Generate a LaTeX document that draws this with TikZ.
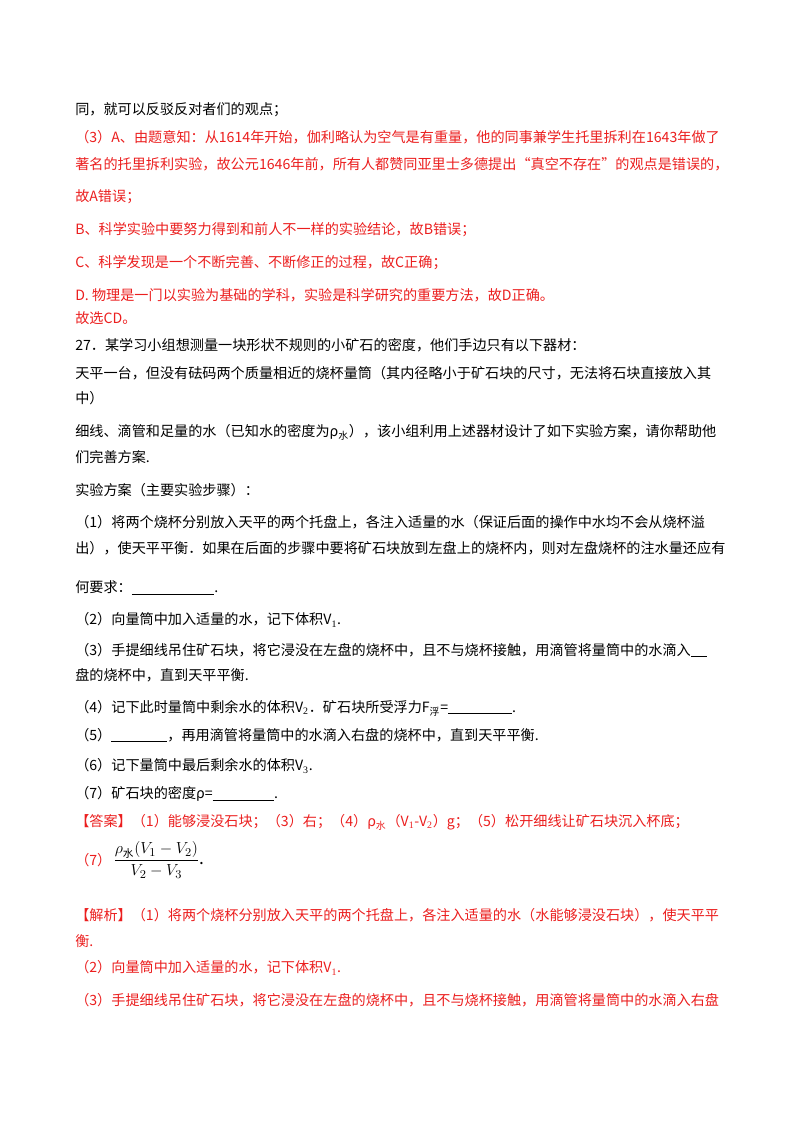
\documentclass[tikz,border=0pt]{standalone}
\usepackage{fontspec}
\setmainfont{Noto Sans CJK SC}
\newfontfamily\latinfont{Liberation Serif}
\usetikzlibrary{positioning}
\definecolor{ansred}{RGB}{235,30,30}
\tikzset{line/.style={anchor=west,inner sep=0pt,font=\fontsize{10.6pt}{13pt}\selectfont},
         redline/.style={line,text=ansred}}
\newcommand{\blank}[1]{\rule[-1.5pt]{#1}{0.6pt}}
\newcommand{\sub}[1]{\textsubscript{\latinfont #1}}
\newcommand{\csub}[1]{\textsubscript{#1}}
\begin{document}
\begin{tikzpicture}[x=0.75pt,y=-0.75pt]
\useasboundingbox (0,0) rectangle (800,1132);
\node[line] (l1) at (75,110) {同，就可以反驳反对者们的观点；};
\node[redline] (l2) at (75,137) {（3）A、由题意知：从1614年开始，伽利略认为空气是有重量，他的同事兼学生托里拆利在1643年做了};
\node[redline] (l3) at (75,164) {著名的托里拆利实验，故公元1646年前，所有人都赞同亚里士多德提出“真空不存在”的观点是错误的，};
\node[redline] (l4) at (75,197) {故A错误；};
\node[redline] (l5) at (75,230) {B、科学实验中要努力得到和前人不一样的实验结论，故B错误；};
\node[redline] (l6) at (75,263) {C、科学发现是一个不断完善、不断修正的过程，故C正确；};
\node[redline] (l7) at (75,295) {D. 物理是一门以实验为基础的学科，实验是科学研究的重要方法，故D正确。};
\node[redline] (l8) at (75,318) {故选CD。};
\node[line] (q1) at (75,345) {27．某学习小组想测量一块形状不规则的小矿石的密度，他们手边只有以下器材：};
\node[line] (q2) at (75,373) {天平一台，但没有砝码两个质量相近的烧杯量筒（其内径略小于矿石块的尺寸，无法将石块直接放入其};
\node[line] (q3) at (75,398) {中）};
\node[line] (q4) at (75,432) {细线、滴管和足量的水（已知水的密度为ρ\csub{水}），该小组利用上述器材设计了如下实验方案，请你帮助他};
\node[line] (q5) at (75,457) {们完善方案.};
\node[line] (q6) at (75,490) {实验方案（主要实验步骤）：};
\node[line] (s1) at (75,522) {（1）将两个烧杯分别放入天平的两个托盘上，各注入适量的水（保证后面的操作中水均不会从烧杯溢};
\node[line] (s1b) at (75,548) {出），使天平平衡．如果在后面的步骤中要将矿石块放到左盘上的烧杯内，则对左盘烧杯的注水量还应有};
\node[line] (s1c) at (75,588) {何要求：\blank{62pt}.};
\node[line] (s2) at (75,620) {（2）向量筒中加入适量的水，记下体积V\sub{1}.};
\node[line] (s3) at (75,650) {（3）手提细线吊住矿石块，将它浸没在左盘的烧杯中，且不与烧杯接触，用滴管将量筒中的水滴入\blank{12pt}};
\node[line] (s3b) at (75,675) {盘的烧杯中，直到天平平衡.};
\node[line] (s4) at (75,708) {（4）记下此时量筒中剩余水的体积V\sub{2}．矿石块所受浮力F\csub{浮}=\blank{48pt}.};
\node[line] (s5) at (75,735) {（5）\blank{42pt}，再用滴管将量筒中的水滴入右盘的烧杯中，直到天平平衡.};
\node[line] (s6) at (75,766) {（6）记下量筒中最后剩余水的体积V\sub{3}.};
\node[line] (s7) at (75,794) {（7）矿石块的密度ρ=\blank{46pt}.};
\node[redline] (a1) at (75,822) {【答案】（1）能够浸没石块；（3）右；（4）ρ\csub{水}（V\sub{1}-V\sub{2}）g；（5）松开细线让矿石块沉入杯底；};
\node[redline] (a2) at (75,860) {（7）};
\node[line,right=1pt of a2,font=\fontsize{13pt}{15pt}\selectfont] (frac) {$\displaystyle\frac{\rho_{\mbox{\footnotesize 水}}(V_1-V_2)}{V_2-V_3}$.};
\node[redline] (j1) at (75,915) {【解析】（1）将两个烧杯分别放入天平的两个托盘上，各注入适量的水（水能够浸没石块），使天平平};
\node[redline] (j2) at (75,941) {衡.};
\node[redline] (j3) at (75,968) {（2）向量筒中加入适量的水，记下体积V\sub{1}.};
\node[redline] (j4) at (75,1000) {（3）手提细线吊住矿石块，将它浸没在左盘的烧杯中，且不与烧杯接触，用滴管将量筒中的水滴入右盘};
\end{tikzpicture}
\end{document}
